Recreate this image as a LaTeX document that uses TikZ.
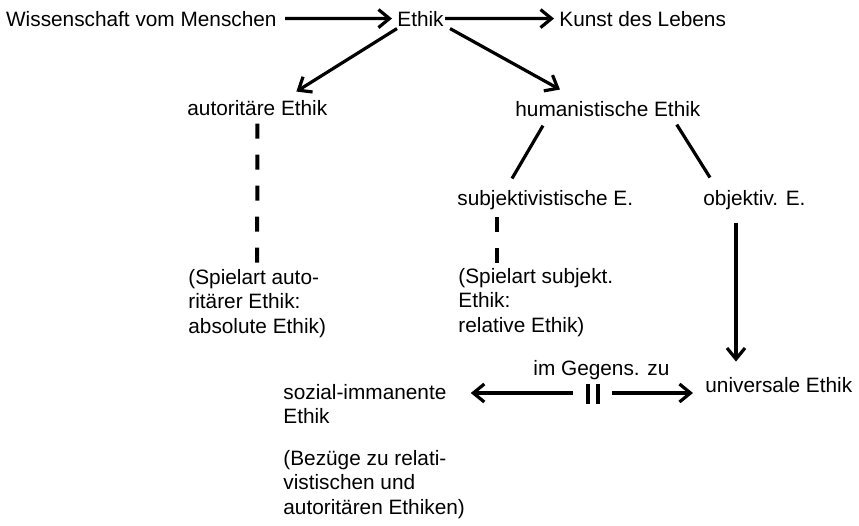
\documentclass[tikz,border=0pt]{standalone}
\usepackage{fontspec}
\setmainfont{Liberation Sans}
\usetikzlibrary{arrows.meta, positioning}

\begin{document}
\begin{tikzpicture}[x=0.5pt, y=-0.5pt]
	\tikzset {>={Straight Barb[length=5.5pt,width=9pt]}, every node/.style={inner sep=0pt, anchor=base west, font=\fontsize{10.4}{12.2}\selectfont}, note/.style={anchor=north west, align=left}, link/.style={line width=1.6pt}, dashlink/.style={line width=2pt, dash pattern=on 7.5pt off 8pt} }
	
	\path[use as bounding box, fill=white] (0,0) rectangle (859,526);
	
	\node (ethik) at (397,26) {Ethik};
	\node[base left=60pt of ethik] (wiss) {Wissenschaft vom Menschen};
	\node[base right=57.5pt of ethik] (kunst) {Kunst des Lebens};
	\node (aut) at (187,115) {autoritäre Ethik};
	\node (hum) at (515,116) {humanistische Ethik};
	\node (sub) at (457,205) {subjektivistische E.};
	\node (obj) at (703,205) {objektiv. E.};
	\node[note] (spA) at (188,269) {(Spielart auto-\\ritärer Ethik:\\absolute Ethik)};
	\node[note] (spS) at (458,268) {(Spielart subjekt.\\Ethik:\\relative Ethik)};
	\node[note] (soz) at (283,384) {sozial-immanente\\Ethik};
	\node[note] (bez) at (283,450) {(Bezüge zu relati-\\vistischen und\\autoritären Ethiken)};
	\node (geg) at (533,375) {im Gegens. zu};
	\node (uni) at (705,392) {universale Ethik};
	\coordinate (mid) at (593,393);
	
	\draw[link]
		(wiss) edge[->, shorten <=4pt, shorten >=2.5pt] (ethik)
		(ethik) edge[->, shorten <=0.5pt, shorten >=2.5pt] (kunst)
		([yshift=-1pt]ethik.south west) edge[->] ([xshift=19.5pt,yshift=4pt]aut.north)
		([xshift=3pt,yshift=-1pt]ethik.south east) edge[->] ([xshift=22.5pt,yshift=5.5pt]hum.north west)
		([xshift=14pt,yshift=-4.5pt]hum.south west) edge ([xshift=27.5pt,yshift=5.5pt]sub.north west)
		([xshift=-12pt,yshift=-4pt]hum.south east) edge ([xshift=3.5pt,yshift=6pt]obj.north west)
		([xshift=16.5pt,yshift=-6.5pt]obj.south west) edge[->] ([xshift=15.5pt,yshift=7.5pt]uni.north west)
		([xshift=-10pt]mid) edge[->, shorten >=12pt] (soz.east |- mid)
		([xshift=9.5pt]mid) edge[->, shorten >=6pt] (uni.west |- mid);
	
	\draw[dashlink]
		(aut.south) edge[shorten <=4pt, shorten >=2.5pt] (spA.north)
		([xshift=20pt,yshift=-3.8pt]sub.south west) edge ([xshift=19.5pt,yshift=2pt]spS.north west);
	
	\foreach \dx in {-2.5pt,2.5pt}
		\draw[line width=2.2pt] ([xshift=\dx,yshift=4.5pt]mid) -- ([xshift=\dx,yshift=-5.5pt]mid);
\end{tikzpicture}
\end{document}
